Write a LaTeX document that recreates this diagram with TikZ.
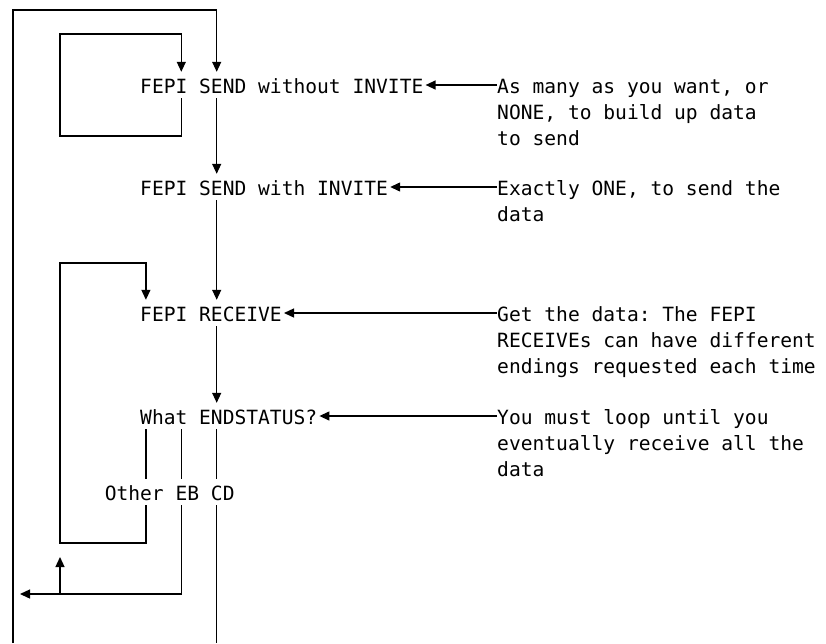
\documentclass[tikz,border=0pt]{standalone}
\usepackage{fontspec}
\setmonofont{DejaVu Sans Mono}
\usetikzlibrary{arrows.meta,positioning}

\begin{document}
\begin{tikzpicture}[
  x=1pt, y=-1pt,
  font=\ttfamily\fontsize{19.6}{26}\selectfont,
  cmd/.style={anchor=base west, inner xsep=2pt, inner ysep=5pt,
              text height=16pt, text depth=0pt},
  note/.style={anchor=north west, inner sep=0pt, align=left},
  wire/.style={line width=1.3pt},
  flow/.style={wire, -{Triangle[length=10pt, width=9pt]}},
]
\useasboundingbox (0,0) rectangle (826,643);

% --- the commands, one per row ---
\node[cmd] (send1) at (138,93)  {FEPI SEND without INVITE};
\node[cmd] (send2) at (138,195) {FEPI SEND with INVITE};
\node[cmd] (recv)  at (138,321) {FEPI RECEIVE};
\node[cmd] (stat)  at (138,424) {What ENDSTATUS?};
\node[cmd] (ends)  at (102.6,500) {Other EB CD};

% --- comments on the right (top = first baseline - strut height) ---
\node[note] (n1) at (497,74.8)  {\strut As many as you want, or\\NONE, to build up data\\to send};
\node[note] (n2) at (497,176.8) {\strut Exactly ONE, to send the\\data};
\node[note] (n3) at (497,302.8) {\strut Get the data: The FEPI\\RECEIVEs can have different\\endings requested each time};
\node[note] (n4) at (497,405.8) {\strut You must loop until you\\eventually receive all the\\data};

\foreach \n/\c in {n1/send1, n2/send2, n3/recv, n4/stat}
  \draw[flow] (\n.west |- \c.east) -- (\c.east);

% --- columns and loop corners ---
\coordinate (c0) at (145.9,0);
\coordinate (c3) at (181.3,0);
\coordinate (c6) at (216.7,0);
\coordinate (ina) at (60,34);
\coordinate (inb) at (60,136);
\coordinate (ot)  at (13,10);
\coordinate (ob)  at (13,643);
\coordinate (rt)  at (60,263);
\coordinate (rb)  at (60,543);
\coordinate (back) at (20,594);
\coordinate (jn)  at (60,594);
\coordinate (up)  at (60,557);
\coordinate (exit) at (216.7,643);

% --- main flow ---
\draw[flow] (send1.south -| c6) -- (send2.north -| c6);
\draw[flow] (send2.south -| c6) -- (recv.north -| c6);
\draw[flow] (recv.south -| c6) -- (stat.north -| c6);
\foreach \c in {c0,c3,c6}
  \draw[wire] (stat.south -| \c) -- (ends.north -| \c);

% --- loops ---
\draw[flow] (send1.south -| c3) |- (inb) -- (ina) -| (send1.north -| c3);
\draw[flow] (ob) -- (ot) -| (send1.north -| c6);
\draw[flow] (ends.south -| c0) |- (rb) -- (rt) -| (recv.north -| c0);
\draw[flow] (ends.south -| c3) |- (back);
\draw[flow] (jn) -- (up);
\draw[wire] (ends.south -| c6) -- (exit);
\end{tikzpicture}
\end{document}
